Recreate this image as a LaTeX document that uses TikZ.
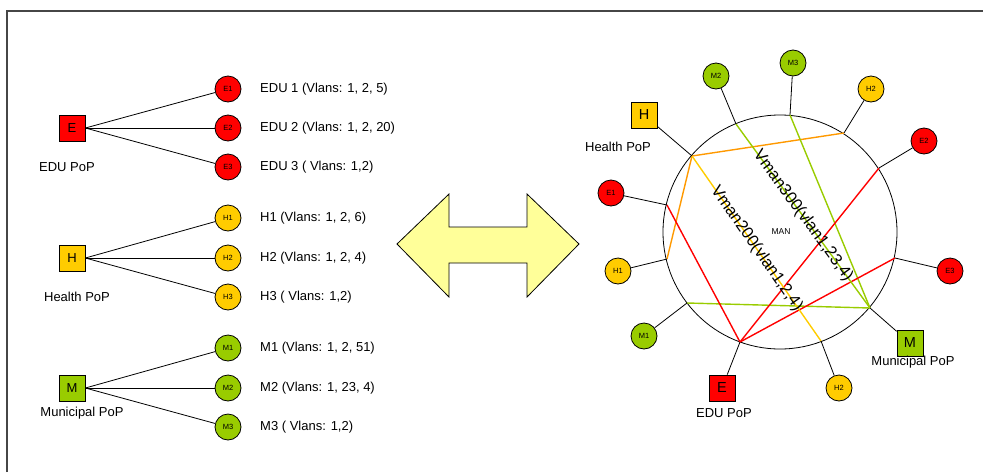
\documentclass[tikz,border=0pt]{standalone}
\usepackage{fontspec}
\setmainfont{Liberation Sans}
\definecolor{eduRed}{RGB}{255,0,0}
\definecolor{healthYel}{RGB}{255,204,0}
\definecolor{muniGrn}{RGB}{153,204,0}
\definecolor{chordOr}{RGB}{255,153,0}
\definecolor{arrowFill}{RGB}{255,255,153}
\definecolor{frameGray}{RGB}{70,70,70}
\begin{document}
\begin{tikzpicture}[x=1pt,y=-1pt,
  pop/.style={draw=black, line width=0.8pt, minimum size=26pt, inner sep=0pt, font=\fontsize{13}{15}\selectfont},
  bigpop/.style={pop, font=\fontsize{14.5}{16}\selectfont},
  site/.style={circle, draw=black, line width=0.8pt, minimum size=26pt, inner sep=0pt, font=\fontsize{7.5}{9}\selectfont},
  edu/.style={fill=eduRed},
  hlt/.style={fill=healthYel},
  mun/.style={fill=muniGrn},
  lbl/.style={font=\fontsize{13}{15}\selectfont, inner sep=0pt},
  vlbl/.style={lbl, anchor=west},
  link/.style={draw=black, line width=0.8pt},
  chord/.style={line width=1.4pt},
  vman/.style={font=\fontsize{16.5}{18}\selectfont, text=black, inner sep=0pt, sloped}
]
\useasboundingbox (0,0) rectangle (983,472);

% frame
\draw[frameGray, line width=1.4pt] (7,472) -- (7,11) -- (983,11);

% ---------- left: PoP trees ----------
\node[pop, edu] (E) at (72,128) {E};
\node[lbl] (Elbl) at (67,167) {EDU PoP};
\node[site, edu] (E1) at (228,89) {E1};
\node[site, edu] (E2) at (228,128) {E2};
\node[site, edu] (E3) at (228,167) {E3};
\node[vlbl] (E1t) at (260,89) {EDU 1 (Vlans: 1, 2, 5)};
\node[vlbl] (E2t) at (260,128) {EDU 2 (Vlans: 1, 2, 20)};
\node[vlbl] (E3t) at (260,167) {EDU 3 ( Vlans: 1,2)};
\foreach \s in {E1,E2,E3} \draw[link] (E.east) -- (\s);

\node[pop, hlt] (H) at (72,258) {H};
\node[lbl] (Hlbl) at (77,297) {Health PoP};
\node[site, hlt] (H1) at (228,218) {H1};
\node[site, hlt] (H2) at (228,258) {H2};
\node[site, hlt] (H3) at (228,297) {H3};
\node[vlbl] (H1t) at (260,218) {H1 (Vlans: 1, 2, 6)};
\node[vlbl] (H2t) at (260,258) {H2 (Vlans: 1, 2, 4)};
\node[vlbl] (H3t) at (260,297) {H3 ( Vlans: 1,2)};
\foreach \s in {H1,H2,H3} \draw[link] (H.east) -- (\s);

\node[pop, mun] (M) at (72,388) {M};
\node[lbl] (Mlbl) at (82,413) {Municipal PoP};
\node[site, mun] (M1) at (228,348) {M1};
\node[site, mun] (M2) at (228,388) {M2};
\node[site, mun] (M3) at (228,427) {M3};
\node[vlbl] (M1t) at (260,348) {M1 (Vlans: 1, 2, 51)};
\node[vlbl] (M2t) at (260,388) {M2 (Vlans: 1, 23, 4)};
\node[vlbl] (M3t) at (260,427) {M3 ( Vlans: 1,2)};
\foreach \s in {M1,M2,M3} \draw[link] (M.east) -- (\s);

% ---------- double arrow ----------
\draw[fill=arrowFill, line width=0.8pt, line join=miter]
  (397,244) -- (449,194) -- (449,227) -- (527,227) -- (527,194) -- (579,244)
  -- (527,297) -- (527,263) -- (449,263) -- (449,297) -- cycle;

% ---------- right: MAN ring ----------
\node[circle, draw=black, line width=0.8pt, minimum size=234pt, inner sep=0pt] (ring) at (780,232) {};
\node[font=\fontsize{8.5}{10}\selectfont] (man) at (781,232) {MAN};

% attachment points on the ring
\coordinate (pM2) at (736,124);
\coordinate (pM3) at (790,115);
\coordinate (pH2t) at (844,133);
\coordinate (pE2) at (879,168);
\coordinate (pH) at (692,156);
\coordinate (pE1) at (667,205);
\coordinate (pH1) at (667,259);
\coordinate (pM1) at (687,303);
\coordinate (pE) at (740,342);
\coordinate (pH2b) at (821,341);
\coordinate (pM) at (870,308);
\coordinate (pE3) at (895,258);

% vlan paths across the ring
\draw[chord, chordOr] (pH) -- (pH2t);
\draw[chord, chordOr] (pH) -- (pH1);
\draw[chord, muniGrn] (pM3) -- (pM);
\draw[chord, muniGrn] (pM1) -- (pM);
\draw[chord, eduRed] (pE1) -- (pE);
\draw[chord, eduRed] (pE) -- (pE2);
\draw[chord, eduRed] (pE) -- (pE3);
\draw[chord, healthYel] (pH) -- node[vman] (v200) {Vman200(vlan1,2,4)} (pH2b);
\draw[chord, muniGrn] (pM2) -- node[vman] (v300) {Vman300(vlan1,23,4)} (pM);

% sites around the ring
\node[site, mun] (rM2) at (716,76) {M2};
\node[site, mun] (rM3) at (793,63) {M3};
\node[site, hlt] (rH2t) at (871,89) {H2};
\node[site, edu] (rE2) at (924,141) {E2};
\node[site, edu] (rE1) at (611,193) {E1};
\node[site, hlt] (rH1) at (618,271) {H1};
\node[site, mun] (rM1) at (644,336) {M1};
\node[site, hlt] (rH2b) at (839,388) {H2};
\node[site, edu] (rE3) at (950,271) {E3};

\node[bigpop, hlt] (rH) at (644,115) {H};
\node[lbl] (rHlbl) at (618,147) {Health PoP};
\node[bigpop, edu] (rE) at (722,388) {E};
\node[lbl] (rElbl) at (724,413) {EDU PoP};
\node[bigpop, mun] (rM) at (910,343) {M};
\node[lbl] (rMlbl) at (913,362) {Municipal PoP};

\draw[link] (rM2) -- (pM2);
\draw[link] (rM3) -- (pM3);
\draw[link] (rH2t) -- (pH2t);
\draw[link] (rE2) -- (pE2);
\draw[link] (rH) -- (pH);
\draw[link] (rE1) -- (pE1);
\draw[link] (rH1) -- (pH1);
\draw[link] (rM1) -- (pM1);
\draw[link] (rE) -- (pE);
\draw[link] (rH2b) -- (pH2b);
\draw[link] (rM) -- (pM);
\draw[link] (rE3) -- (pE3);
\end{tikzpicture}
\end{document}
